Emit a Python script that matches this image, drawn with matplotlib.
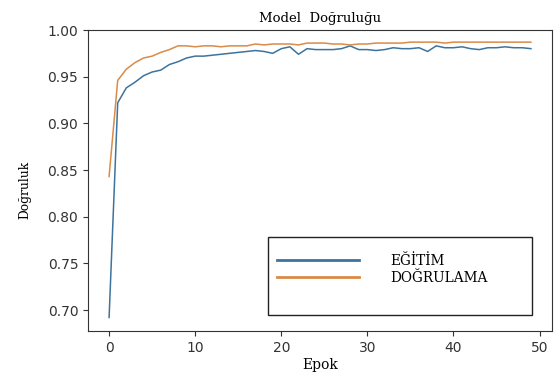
import matplotlib
matplotlib.use("Agg")
import matplotlib.pyplot as plt
from matplotlib.patches import Rectangle

epochs = list(range(50))
egitim = [0.692, 0.922, 0.938, 0.944, 0.951, 0.955, 0.957, 0.963, 0.966, 0.970,
          0.972, 0.972, 0.973, 0.974, 0.975, 0.976, 0.977, 0.978, 0.977, 0.975,
          0.980, 0.982, 0.974, 0.980, 0.979, 0.979, 0.979, 0.980, 0.983, 0.979,
          0.979, 0.978, 0.979, 0.981, 0.980, 0.980, 0.981, 0.977, 0.983, 0.981,
          0.981, 0.982, 0.980, 0.979, 0.981, 0.981, 0.982, 0.981, 0.981, 0.980]
dogrulama = [0.843, 0.946, 0.958, 0.965, 0.970, 0.972, 0.976, 0.979, 0.983, 0.983,
             0.982, 0.983, 0.983, 0.982, 0.983, 0.983, 0.983, 0.985, 0.984, 0.985,
             0.985, 0.985, 0.984, 0.986, 0.986, 0.986, 0.985, 0.985, 0.984, 0.985,
             0.985, 0.986, 0.986, 0.986, 0.986, 0.987, 0.987, 0.987, 0.987, 0.986,
             0.987, 0.987, 0.987, 0.987, 0.987, 0.987, 0.987, 0.987, 0.987, 0.987]
labels = ["EĞİTİM", "DOĞRULAMA"]
yticks = [0.70, 0.75, 0.80, 0.85, 0.90, 0.95, 1.00]
xticks = [0, 10, 20, 30, 40, 50]

serif = "DejaVu Serif"

fig = plt.figure(figsize=(5.54, 3.78), dpi=100)
ax = fig.add_axes([88/554, 1-331/378, 464/554, 301/378])

l1, = ax.plot(epochs, egitim, color="#3d739c", lw=1.1)
l2, = ax.plot(epochs, dogrulama, color="#d98b48", lw=1.1)

ax.set_xlim(-2.45, 51.45)
ax.set_ylim(0.6775, 1.0)
ax.set_yticks(yticks)
ax.set_yticklabels([f"{v:.2f}" for v in yticks])
ax.set_xticks(xticks)
ax.tick_params(labelsize=10, colors="#333333")
for s in ax.spines.values():
    s.set_color("#333333")

ax.set_title("Model  Doğruluğu", family=serif, fontsize=9.5, pad=6)
ax.set_xlabel("Epok", family=serif, fontsize=10, labelpad=2)
ax.set_ylabel("Doğruluk", family=serif, fontsize=8.8)
ax.yaxis.set_label_coords(-0.122, 0.47)

# legend frame
fig.patches.append(Rectangle((268/554, 1-315/378), 264/554, 78/378,
                             transform=fig.transFigure, fill=False,
                             edgecolor="#222222", lw=1.0))
leg = fig.legend([l1, l2], labels, loc="upper left",
                 bbox_to_anchor=(265/554, 1-242/378), frameon=False,
                 handlelength=6.0, handletextpad=2.3, labelspacing=0.2,
                 prop={"family": serif, "size": 9.8})
for h in leg.legend_handles:
    h.set_linewidth(2.0)

fig.savefig("out.png", dpi=100)
